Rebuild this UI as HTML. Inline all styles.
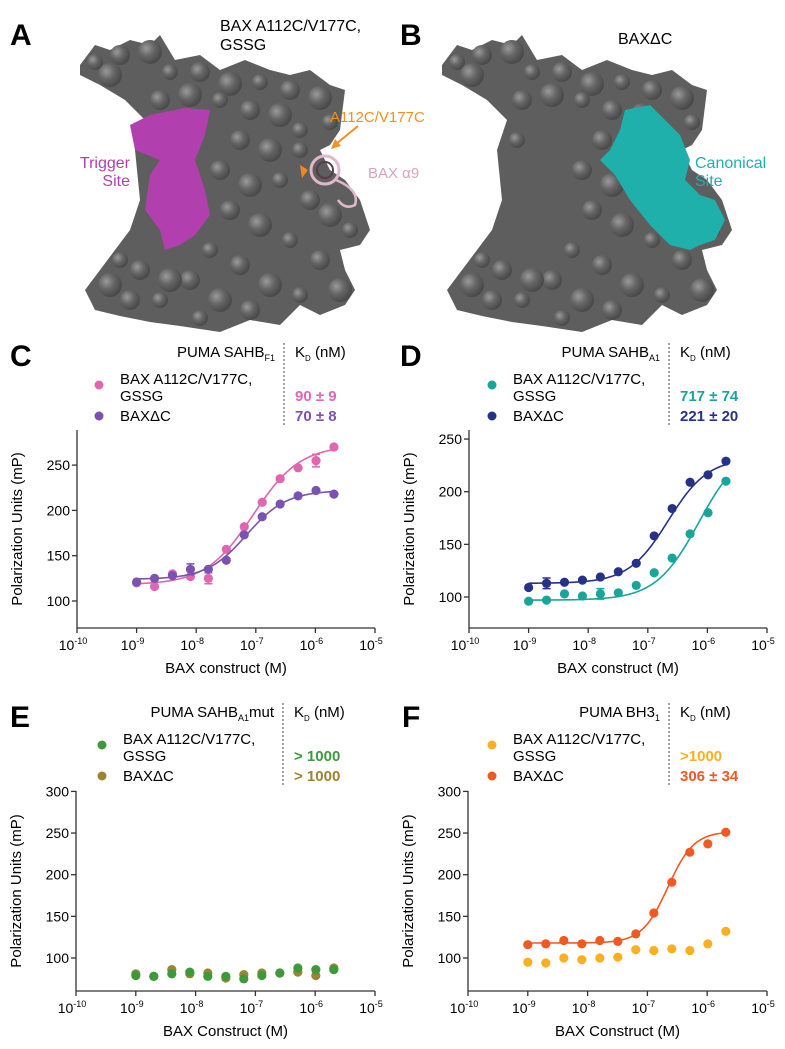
<!DOCTYPE html>
<html><head><meta charset="utf-8"><style>
body{margin:0;background:#fff;}
svg{display:block;font-family:"Liberation Sans",Arial,sans-serif;}
</style></head><body>
<svg id="fig" width="785" height="1049" viewBox="0 0 785 1049" xmlns="http://www.w3.org/2000/svg">
<defs>
<radialGradient id="knob" cx="35%" cy="35%" r="65%"><stop offset="0" stop-color="#9a9a9a"/><stop offset="0.5" stop-color="#666"/><stop offset="1" stop-color="#4a4a4a"/></radialGradient>
</defs>
<g>
<polygon fill="#5e5e5e" points="80,65 95,45 110,50 130,40 150,45 160,35 175,60 200,55 220,70 245,60 270,70 290,75 310,70 330,85 345,90 340,130 330,145 320,150 330,170 345,180 360,200 370,230 360,245 340,250 345,270 355,290 345,305 320,315 300,305 280,325 250,320 220,332 180,326 150,322 120,316 95,310 85,290 100,270 115,250 130,230 140,200 135,150 145,120 125,100 100,85 80,75"/>
<g id="knobsA"></g>
<polygon fill="#b23fae" points="130,125 150,115 185,108 210,110 205,135 195,160 205,190 210,215 195,235 180,245 165,250 160,230 145,210 150,175 160,160 135,150"/>
<circle cx="325" cy="170" r="14" fill="none" stroke="#e0b8cc" stroke-width="3"/>
<circle cx="325" cy="170" r="8" fill="none" stroke="#5a3a4a" stroke-width="2"/>
<path d="M336,180 Q360,190 355,205 Q345,210 338,200" fill="none" stroke="#e0b8cc" stroke-width="2.5"/>
<polygon fill="#f08a1a" points="300,165 308,170 302,178"/>
<line x1="358" y1="126" x2="336" y2="144" stroke="#f39020" stroke-width="2"/>
<polygon fill="#f39020" points="331,149 335,139 341,146"/>
</g>
<g transform="translate(362,0)">
<polygon fill="#5e5e5e" points="80,65 95,45 110,50 130,40 150,45 160,35 175,60 200,55 220,70 245,60 270,70 290,75 310,70 330,85 345,90 340,130 330,145 320,150 330,170 345,180 360,200 370,230 360,245 340,250 345,270 355,290 345,305 320,315 300,305 280,325 250,320 220,332 180,326 150,322 120,316 95,310 85,290 100,270 115,250 130,230 140,200 135,150 145,120 125,100 100,85 80,75"/>
<g id="knobsB"></g>
</g>
<polygon fill="#1fb0ac" points="625,110 650,105 665,120 680,135 690,160 685,180 700,195 715,200 725,220 715,240 700,245 690,250 670,245 650,225 630,200 615,175 600,160 610,150 620,130"/>
<text x="10" y="45" font-size="30" font-weight="bold">A</text>
<text x="400" y="45" font-size="30" font-weight="bold">B</text>
<text x="220" y="31" font-size="16">BAX A112C/V177C,</text>
<text x="220" y="50" font-size="16">GSSG</text>
<text x="130" y="168" font-size="16" fill="#b23fae" text-anchor="end">Trigger</text>
<text x="130" y="186" font-size="16" fill="#b23fae" text-anchor="end">Site</text>
<text x="330" y="122" font-size="15" fill="#f39020">A112C/V177C</text>
<text x="368" y="178" font-size="15" fill="#d9a3b9">BAX α9</text>
<text x="618" y="44" font-size="16">BAXΔC</text>
<text x="695" y="168" font-size="16" fill="#1fb0ac">Canonical</text>
<text x="695" y="186" font-size="16" fill="#1fb0ac">Site</text>
<g id="charts"></g>
</svg>
<script>
var concentrations = [1e-9,2e-9,4e-9,8e-9,1.6e-8,3.2e-8,6.4e-8,1.28e-7,2.56e-7,5.12e-7,1.024e-6,2.048e-6];
var xTickExps = [-10,-9,-8,-7,-6,-5];
var cPink = [120,116,130,127,125,157,182,209,235,247,255,270];
var cPurple = [121,125,128,135,135,145,173,193,207,216,222,218];
var cPinkErr = [0,0,0,0,6,0,0,0,0,0,7,0];
var cPurpleErr = [0,0,0,6,0,0,0,0,0,0,0,0];
var cFitPink = [118,272,9e-8,1.1];
var cFitPurple = [124,222,7e-8,1.3];
var dNavy = [109,113,114,116,119,124,132,158,184,209,216,229];
var dTeal = [96,97,103,101,103,104,111,123,137,160,180,210];
var dNavyErr = [0,5,0,0,0,0,0,0,0,0,0,0];
var dTealErr = [0,0,0,0,5,0,0,0,0,0,0,0];
var dFitNavy = [113,232,2.2e-7,1.3];
var dFitTeal = [97,245,7.2e-7,1.2];
var eGreen = [79,78,81,83,78,78,75,79,82,88,86,86];
var eBrown = [81,78,86,81,82,76,80,82,82,83,79,88];
var fYellow = [95,94,100,98,100,101,110,109,111,109,117,132];
var fOrange = [116,117,121,117,121,120,129,154,191,227,237,251];
var fFitOrange = [118,252,2.2e-7,2];
var yTicksCD = [100,150,200,250];
var yTicksEF = [100,150,200,250,300];

var NS = "http://www.w3.org/2000/svg";
var root = document.getElementById('charts');
function mk(tag, attrs, parent){
  var e = document.createElementNS(NS, tag);
  for (var k in attrs) e.setAttribute(k, attrs[k]);
  (parent||root).appendChild(e); return e;
}
function txt(x,y,s,size,extra,parent){
  var t = mk('text', Object.assign({x:x,y:y,'font-size':size}, extra||{}), parent);
  t.textContent = s; return t;
}
function knobs(id){
  var g = document.getElementById(id);
  var pts=[[95,62],[120,55],[150,52],[170,72],[200,72],[230,84],[260,82],[290,90],[320,98],[330,122],[160,100],[190,95],[220,100],[250,110],[280,115],[300,130],[240,140],[270,150],[300,150],[220,170],[250,185],[280,180],[310,200],[330,215],[350,230],[230,210],[260,225],[290,240],[320,260],[340,290],[210,250],[240,265],[270,285],[300,295],[190,280],[220,300],[160,300],[130,300],[110,285],[120,260],[140,270],[170,280],[200,318],[250,310],[110,75],[155,140]];
  pts.forEach(function(p,i){
    var c = document.createElementNS(NS,'circle');
    c.setAttribute('cx',p[0]); c.setAttribute('cy',p[1]); c.setAttribute('r', 8+(i%3)*2);
    c.setAttribute('fill','url(#knob)');
    g.appendChild(c);
  });
}
knobs('knobsA'); knobs('knobsB');

function hill(p, c){ return p[0] + (p[1]-p[0])/(1+Math.pow(p[2]/c, p[3])); }

function chart(cfg){
  var g = mk('g',{});
  
  
  function X(c){ return cfg.x0 + (Math.log10(c)+10)/5*(cfg.x1-cfg.x0); }
  function Y(v){ return cfg.y100 - (v-100)*cfg.ppu; }
  var ya = mk('line',{x1:cfg.x0,y1:cfg.top,x2:cfg.x0,y2:cfg.bottom,stroke:'#333','stroke-width':1.3},g);
  
  
  var xa = mk('line',{x1:cfg.x0,y1:cfg.bottom,x2:cfg.x1,y2:cfg.bottom,stroke:'#333','stroke-width':1.3},g);
  
  
  cfg.yTicks.forEach(function(v){
    mk('line',{x1:cfg.x0-5,y1:Y(v),x2:cfg.x0,y2:Y(v),stroke:'#333','stroke-width':1.3},g);
    var t = txt(cfg.x0-7,Y(v)+5,String(v),14,{'text-anchor':'end'},g);
    
    
  });
  xTickExps.forEach(function(e){
    var x = X(Math.pow(10,e));
    mk('line',{x1:x,y1:cfg.bottom,x2:x,y2:cfg.bottom+5,stroke:'#333','stroke-width':1.3},g);
    var t = mk('text',{x:x-4,y:cfg.bottom+22,'font-size':14,'text-anchor':'middle'},g);
    
    
    t.textContent='10';
    var s = mk('tspan',{dy:-6,'font-size':9},t); s.textContent=String(e);
  });
  var xt = txt((cfg.x0+cfg.x1)/2, cfg.bottom+45, cfg.xTitle, 15, {'text-anchor':'middle'}, g);
  
  
  var cy = (cfg.top+cfg.bottom)/2;
  var yt = txt(cfg.x0-55, cy, 'Polarization Units (mP)', 15, {'text-anchor':'middle',transform:'rotate(-90 '+(cfg.x0-55)+' '+cy+')'}, g);
  
  
  cfg.series.forEach(function(s){
    if (s.fit){
      var d='';
      for (var i=0;i<=120;i++){
        var lc = -9 + i/120*(Math.log10(2.048e-6)+9);
        var c = Math.pow(10,lc);
        d += (i?'L':'M')+X(c).toFixed(2)+','+Y(hill(s.fit,c)).toFixed(2);
      }
      var p = mk('path',{d:d,fill:'none',stroke:s.color,'stroke-width':1.6},g);
      
      
    }
    s.values.forEach(function(v,i){
      if (s.err && s.err[i]){
        var x=X(concentrations[i]);
        mk('path',{d:'M'+x+','+Y(v-s.err[i])+'V'+Y(v+s.err[i])+'M'+(x-4)+','+Y(v-s.err[i])+'h8M'+(x-4)+','+Y(v+s.err[i])+'h8',stroke:s.color,'stroke-width':1.5,fill:'none'},g);
      }
      var c = mk('circle',{cx:X(concentrations[i]),cy:Y(v),r:4.6,fill:s.color},g);
      
      
    });
  });
  var L = cfg.legend;
  var lab = txt(cfg.label[0], cfg.label[2], cfg.label[1], 30, {'font-weight':'bold'}, g);
  
  
  var pt = mk('text',{x:L.div-9,y:L.y,'font-size':15,'text-anchor':'end'},g);
  
  
  pt.appendChild(document.createTextNode(L.pep));
  var sb = mk('tspan',{'font-size':9,dy:4},pt); sb.textContent=L.sub;
  if (L.tail){ var tl = mk('tspan',{'font-size':15,dy:-4},pt); tl.textContent=L.tail; }
  mk('line',{x1:L.div,y1:L.y-14,x2:L.div,y2:L.y+70,stroke:'#666','stroke-width':1.2,'stroke-dasharray':'2,2'},g);
  var kd = mk('text',{x:L.div+11,y:L.y,'font-size':15},g);
  
  
  kd.appendChild(document.createTextNode('K'));
  var ks = mk('tspan',{'font-size':8,dy:4},kd); ks.textContent='D';
  var kt = mk('tspan',{dy:-4},kd); kt.textContent=' (nM)';
  cfg.legendOrder.forEach(function(s,i){
    var yy = i===0 ? L.y+32 : L.y+63;
    var dot = mk('circle',{cx:L.dot,cy:yy-4,r:4.5,fill:s.color},g);
    
    
    if (i===0){
      var a = txt(L.dot+21, yy-5, 'BAX A112C/V177C,', 15, {}, g);
      
      
      txt(L.dot+21, yy+12, 'GSSG', 15, {}, g);
      var k = txt(L.div+11, yy+12, s.kd, 15, {fill:s.color,'font-weight':'bold'}, g);
      
      
    } else {
      var b = txt(L.dot+21, yy+1, 'BAXΔC', 15, {}, g);
      
      
      var k2 = txt(L.div+11, yy+1, s.kd, 15, {fill:s.color,'font-weight':'bold'}, g);
      
      
    }
  });
}

var sC1={id:'bax-gssg',color:'#e066b0',values:cPink,err:cPinkErr,fit:cFitPink,kd:'90 ± 9'};
var sC2={id:'bax-dc',color:'#7a52b0',values:cPurple,err:cPurpleErr,fit:cFitPurple,kd:'70 ± 8'};
chart({name:'chart-c',x0:77,x1:375,y100:601,ppu:0.906,top:430,bottom:628,yTicks:yTicksCD,xTitle:'BAX construct (M)',
  label:[10,'C',366],legend:{y:357,div:284,dot:99,pep:'PUMA SAHB',sub:'F1'},
  series:[sC1,sC2],legendOrder:[sC1,sC2]});
var sD1={id:'bax-gssg',color:'#1aa59a',values:dTeal,err:dTealErr,fit:dFitTeal,kd:'717 ± 74'};
var sD2={id:'bax-dc',color:'#26328a',values:dNavy,err:dNavyErr,fit:dFitNavy,kd:'221 ± 20'};
chart({name:'chart-d',x0:469,x1:767,y100:597,ppu:1.053,top:430,bottom:628,yTicks:yTicksCD,xTitle:'BAX construct (M)',
  label:[400,'D',366],legend:{y:357,div:669,dot:492,pep:'PUMA SAHB',sub:'A1'},
  series:[sD1,sD2],legendOrder:[sD1,sD2]});
var sE1={id:'bax-gssg',color:'#3c9a3c',values:eGreen,kd:'> 1000'};
var sE2={id:'bax-dc',color:'#9c8430',values:eBrown,kd:'> 1000'};
chart({name:'chart-e',x0:76,x1:375,y100:958,ppu:0.833,top:791,bottom:991,yTicks:yTicksEF,xTitle:'BAX Construct (M)',
  label:[10,'E',727],legend:{y:717,div:283,dot:102,pep:'PUMA SAHB',sub:'A1',tail:'mut'},
  series:[sE2,sE1],legendOrder:[sE1,sE2]});
var sF1={id:'bax-gssg',color:'#fbb022',values:fYellow,kd:'>1000'};
var sF2={id:'bax-dc',color:'#f05a22',values:fOrange,fit:fFitOrange,kd:'306 ± 34'};
chart({name:'chart-f',x0:468,x1:767,y100:958,ppu:0.833,top:791,bottom:991,yTicks:yTicksEF,xTitle:'BAX Construct (M)',
  label:[402,'F',727],legend:{y:717,div:669,dot:492,pep:'PUMA BH3',sub:'1'},
  series:[sF1,sF2],legendOrder:[sF1,sF2]});
</script>
</body></html>
